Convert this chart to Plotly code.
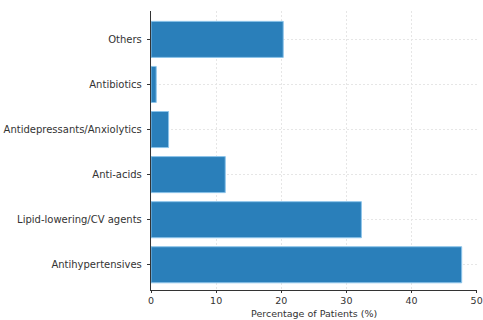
import plotly.graph_objects as go

categories = ["Antihypertensives", "Lipid-lowering/CV agents", "Anti-acids",
              "Antidepressants/Anxiolytics", "Antibiotics", "Others"]
values = [47.7, 32.3, 11.4, 2.7, 0.8, 20.3]
x_ticks = [0, 10, 20, 30, 40, 50]

fig = go.Figure(go.Bar(
    y=categories, x=values, orientation="h", width=0.8,
    marker=dict(color="#2a7fba", line=dict(color="#8cc4ea", width=1)),
))

fig.update_layout(
    width=483, height=320,
    margin=dict(l=151, r=6, t=11, b=30, autoexpand=False),
    plot_bgcolor="white", paper_bgcolor="white",
    font=dict(family="DejaVu Sans", size=10, color="#333333"),
    showlegend=False,
    annotations=[dict(text="Percentage of Patients (%)", xref="paper", yref="paper",
                      x=0.5, y=-30 / 279, xanchor="center", yanchor="bottom",
                      borderpad=0, showarrow=False, font=dict(size=9.5, color="#333333"))],
)
fig.update_xaxes(
    range=[0, 50.05], tickvals=x_ticks, showline=True, linecolor="#333333", linewidth=1,
    ticks="outside", ticklen=2, tickcolor="#333333", ticklabeloverflow="allow",
    tickfont=dict(size=9.5),
    showgrid=True, gridcolor="#e6e6e6", griddash="2px,2px", gridwidth=1,
    zeroline=False, automargin=False,
)
fig.update_yaxes(
    range=[-0.56, 5.63], showline=True, linecolor="#333333", linewidth=1,
    ticks="outside", ticklen=3, tickcolor="#333333",
    showgrid=True, gridcolor="#e6e6e6", griddash="2px,2px", gridwidth=1,
    zeroline=False, automargin=False, ticksuffix=" ",
)

fig.write_html("out.html", config={"displayModeBar": False},
               post_script="document.body.style.margin='0';")
